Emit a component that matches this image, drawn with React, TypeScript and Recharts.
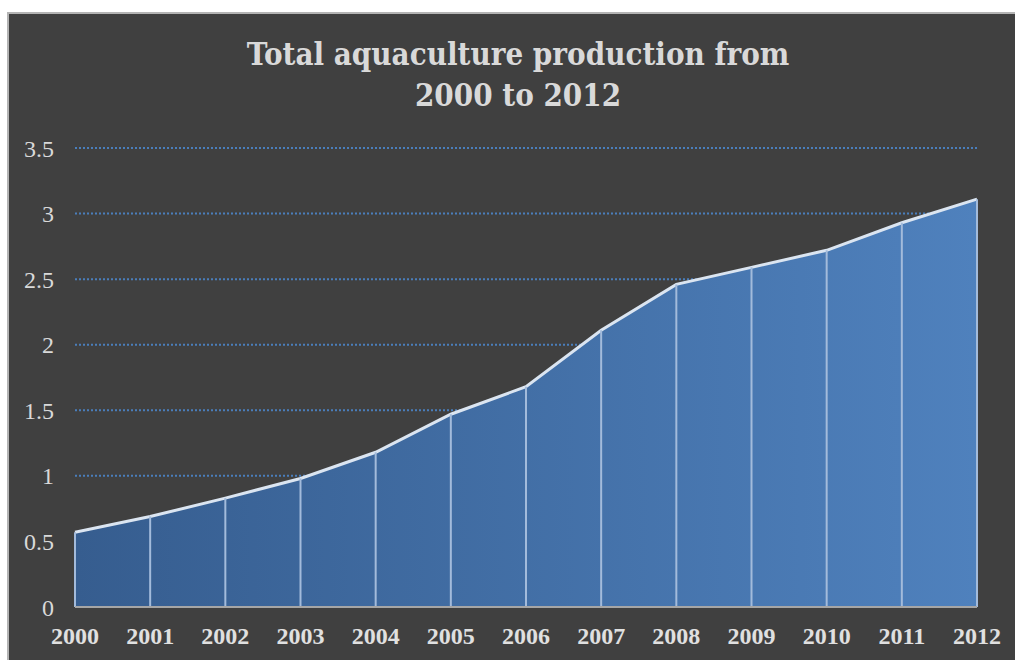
import { AreaChart, Area, XAxis, YAxis, CartesianGrid, ReferenceLine } from 'recharts'

const years = ['2000', '2001', '2002', '2003', '2004', '2005', '2006', '2007', '2008', '2009', '2010', '2011', '2012']
const production = [0.57, 0.69, 0.83, 0.98, 1.18, 1.47, 1.68, 2.11, 2.46, 2.59, 2.72, 2.93, 3.11]
const yTicks = [0, 0.5, 1, 1.5, 2, 2.5, 3, 3.5]

const data = years.map((year, i) => ({ year, value: production[i] }))

const BG = '#404040'

export default function App() {
  return (
    <div style={{ position: 'fixed', left: 0, top: 0, width: 1015, height: 660, background: '#fff', overflow: 'hidden' }}>
      <div
        style={{
          position: 'absolute',
          left: 7,
          top: 12,
          width: 1008,
          height: 648,
          boxSizing: 'border-box',
          background: BG,
          borderTop: '2px solid #b4b4b4',
          borderLeft: '2px solid #b4b4b4',
        }}
      />
      <div
        style={{
          position: 'absolute',
          left: 0,
          top: 34,
          width: 1036,
          textAlign: 'center',
          color: '#d9d9d9',
          fontFamily: '"DejaVu Serif Condensed", "DejaVu Serif", serif',
          fontWeight: 'bold',
          fontSize: 31,
          lineHeight: '41px',
        }}
      >
        Total aquaculture production from
        <br />
        2000 to 2012
      </div>
      <div style={{ position: 'absolute', left: 0, top: 0 }}>
        <AreaChart width={1015} height={660} data={data} margin={{ top: 148, right: 38, bottom: 23, left: 15 }}>
          <defs>
            <linearGradient id="fillBlue" x1="0" y1="0" x2="1" y2="0">
              <stop offset="0%" stopColor="#365d8f" />
              <stop offset="100%" stopColor="#4f81bd" />
            </linearGradient>
          </defs>
          <CartesianGrid vertical={false} stroke="#4a7ebb" strokeDasharray="2 2" strokeWidth={2} />
          <XAxis
            dataKey="year"
            height={30}
            axisLine={{ stroke: '#a6a6a6', strokeWidth: 2 }}
            tickLine={false}
            tickMargin={14}
            interval={0}
            tick={{ fill: '#e0e0e0', fontSize: 24, fontWeight: 'bold', fontFamily: '"Liberation Serif", serif' }}
          />
          <YAxis
            width={60}
            domain={[0, 3.5]}
            ticks={yTicks}
            axisLine={false}
            tickLine={false}
            tickSize={0}
            tickMargin={21}
            tick={{ fill: '#d9d9d9', fontSize: 24, fontFamily: '"Liberation Serif", serif' }}
          />
          <Area
            type="linear"
            dataKey="value"
            stroke="#dbe5f1"
            strokeWidth={3}
            fill="url(#fillBlue)"
            fillOpacity={1}
            dot={false}
            activeDot={false}
            isAnimationActive={false}
          />
          {data.map((d) => (
            <ReferenceLine
              key={d.year}
              segment={[
                { x: d.year, y: 0 },
                { x: d.year, y: d.value },
              ]}
              stroke="#a3bbdb"
              strokeWidth={2}
            />
          ))}
        </AreaChart>
      </div>
    </div>
  )
}
